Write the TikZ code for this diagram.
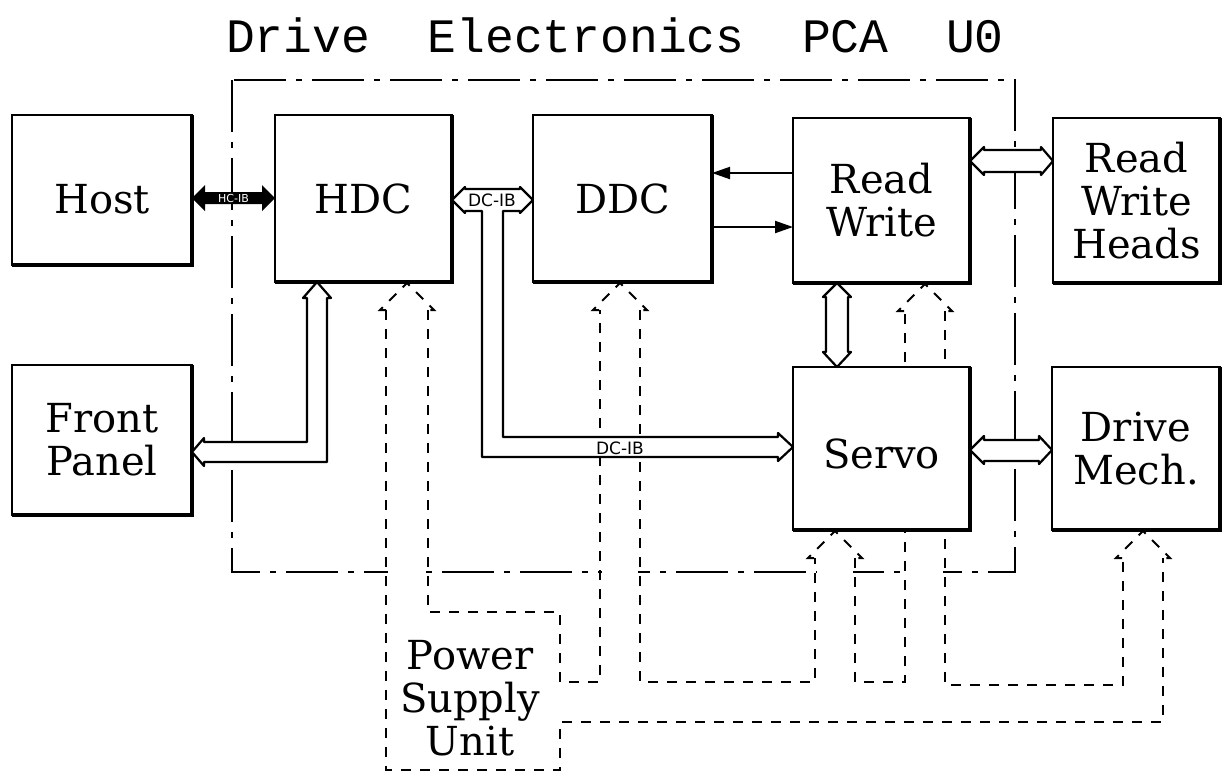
\documentclass[tikz,border=0pt]{standalone}
\usepackage{fontspec}
\setmainfont{DejaVu Serif}
\setsansfont{DejaVu Sans}
\newfontfamily\titlefont{Liberation Mono}
\usepackage{tikz}
\usetikzlibrary{calc, positioning, arrows.meta}

\newcommand\labelfont{\fontsize{20}{21.5}\selectfont}
\newcommand\busfont{\sffamily\fontsize{8.5}{9}\selectfont}

\tikzset{
  block/.style={draw, fill=white, line width=1.1pt, inner sep=0pt, outer sep=0pt, align=center, font=\labelfont},
  pwr/.style={line width=1pt, dash pattern=on 5pt off 4.5pt},
  frame/.style={line width=0.9pt, dash pattern=on 26pt off 5pt on 3pt off 5pt},
  bus/.style={draw, line width=1.1pt, fill=white, line join=round},
  sig/.style={line width=1pt, -{Triangle[length=9pt, width=6pt]}}
}

\begin{document}
\begin{tikzpicture}[x=0.5pt, y=-0.5pt]
  \useasboundingbox (0,0) rectangle (1232,778);
  \fill[white] (0,0) rectangle (1232,778);

  \node[font=\titlefont\fontsize{24}{26}\selectfont] (title) at (615,35) {Drive~~Electronics~~PCA~~U0};

  % board outline
  \draw[frame] (232,80) rectangle (1015,572);
  \foreach \a/\b in {386/428, 600/640, 815/855, 905/945}
    \fill[white] (\a+2,560) rectangle (\b-2,585);

  % power distribution
  \foreach \x/\y in {407/283, 620/283, 925/284, 835/531, 1143/531}
    \draw[pwr] (\x-21,\y+27) -- (\x-27,\y+27) -- (\x,\y) -- (\x+27,\y+27) -- (\x+21,\y+27);
  \draw[pwr] (386,310) -- (386,770) -- (560,770) -- (560,722) -- (1163,722) -- (1163,558);
  \draw[pwr] (428,310) -- (428,612) -- (560,612) -- (560,682) -- (600,682) -- (600,310);
  \draw[pwr] (640,310) -- (640,682) -- (815,682) -- (815,558);
  \draw[pwr] (855,558) -- (855,682) -- (905,682) -- (905,311);
  \draw[pwr] (945,311) -- (945,685) -- (1123,685) -- (1123,558);

  % blocks
  \node[block, minimum width=90pt, minimum height=75pt, text height=24pt] (host) at (102,190) {Host};
  \node[block, minimum width=88.5pt, minimum height=83.5pt] (hdc) at (363.5,198.5) {HDC};
  \node[block, minimum width=89.5pt, minimum height=83.5pt] (ddc) at (622.5,198.5) {DDC};
  \node[block, minimum width=88.5pt, minimum height=82.5pt] (rw) at (881.5,200.5) {Read\\Write};
  \node[block, minimum width=83.5pt, minimum height=82.5pt] (heads) at (1136.5,200.5) {Read\\Write\\Heads};
  \node[block, minimum width=90pt, minimum height=75pt] (front) at (102,440) {Front\\Panel};
  \node[block, minimum width=88.5pt, minimum height=81.5pt, text height=20pt] (servo) at (881.5,448.5) {Servo};
  \node[block, minimum width=84pt, minimum height=81.5pt] (mech) at (1136,448.5) {Drive\\Mech.};
  \node[font=\labelfont, align=center] (psu) at (470,698) {Power\\Supply\\Unit};
  \foreach \b in {host, hdc, ddc, rw, heads, front, servo, mech}
    \draw[line width=2pt] (\b.north east) -- (\b.south east) -- (\b.south west);

  % host bus
  \fill (host.east |- 0,198) -- (205,185) -- (205,192) -- (262,192) -- (262,185) -- (hdc.west |- 0,198)
    -- (262,211) -- (262,204) -- (205,204) -- (205,211) -- cycle;
  \node[font=\sffamily\fontsize{5.5}{6}\selectfont, text=white, inner sep=0pt] (hcib) at (233.5,198) {HC-IB};

  % DC-IB bus
  \draw[bus] (hdc.east |- 0,200) -- (465,187) -- (465,189) -- (520,189) -- (520,187) -- (ddc.west |- 0,200)
    -- (520,213) -- (520,211) -- (503,211) -- (503,437) -- (778,437) -- (778,433) -- (servo.west |- 0,447)
    -- (778,461) -- (778,457) -- (482,457) -- (482,211) -- (465,211) -- (465,213) -- cycle;
  \node[font=\busfont, inner sep=0pt] (dcib) at (492,200) {DC-IB};
  \node[font=\busfont, inner sep=0pt] (dcib2) at (620,448) {DC-IB};

  % front panel bus
  \draw[bus] (front.east |- 0,452) -- (204,438) -- (204,442) -- (307,442) -- (307,298) -- (303,298)
    -- (hdc.south -| 317,0) -- (331,298) -- (327,298) -- (327,462) -- (204,462) -- (204,466) -- cycle;

  % read/write - servo
  \draw[bus] (rw.south -| 837,0) -- (851,297) -- (848,297) -- (848,352) -- (851,352) -- (servo.north -| 837,0)
    -- (823,352) -- (826,352) -- (826,297) -- (823,297) -- cycle;
  % read/write - heads
  \draw[bus] (rw.east |- 0,161) -- (984,147) -- (984,150) -- (1041,150) -- (1041,147) -- (heads.west |- 0,161)
    -- (1041,175) -- (1041,172) -- (984,172) -- (984,175) -- cycle;
  % servo - mech
  \draw[bus] (servo.east |- 0,450) -- (984,436) -- (984,440) -- (1039,440) -- (1039,436) -- (mech.west |- 0,450)
    -- (1039,464) -- (1039,461) -- (984,461) -- (984,464) -- cycle;

  % data paths
  \draw[sig] (rw.west |- 0,173) -- (ddc.east |- 0,173);
  \draw[sig] (ddc.east |- 0,227) -- (rw.west |- 0,227);
\end{tikzpicture}
\end{document}
